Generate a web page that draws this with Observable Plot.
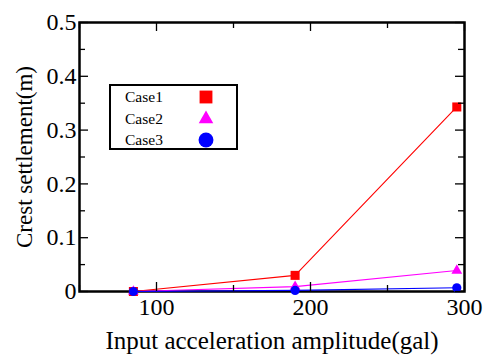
<!DOCTYPE html>
<html><head><meta charset="utf-8">
<script src="https://cdn.jsdelivr.net/npm/d3@7"></script>
<script src="https://cdn.jsdelivr.net/npm/@observablehq/plot@0.6"></script>
<style>
body{margin:0;background:#fff;}
#wrap{position:relative;width:486px;height:358px;font-family:"Liberation Serif",serif;}
#wrap svg, #wrap svg text{font-family:"Liberation Serif",serif !important;}
#legend{position:absolute;left:109px;top:84px;width:125px;height:62px;border:2px solid #000;background:#fff;font-size:15.5px;font-family:"Liberation Serif",serif;}
#legend .row{position:absolute;left:14px;height:22px;line-height:22px;}
#legend svg{position:absolute;left:84px;}
</style></head>
<body><div id="wrap"><div id="legend"></div></div>
<script>
const amplitude = [85, 190, 295];
const case1 = [0.0, 0.030, 0.343];
const case2 = [0.0, 0.009, 0.039];
const case3 = [0.0, 0.002, 0.007];
const seriesNames = ["Case1", "Case2", "Case3"];
const seriesColors = ["#ff0000", "#ff00ff", "#0000ff"];
const seriesSymbols = ["square", "triangle", "circle"];
const xMajor = [100, 200, 300];
const xMinor = [50, 150, 250];
const yMajor = [0, 0.1, 0.2, 0.3, 0.4, 0.5];
const yMinor = [0.05, 0.15, 0.25, 0.35, 0.45];

const allSeries = [case1, case2, case3];
const data = [];
seriesNames.forEach((n, i) => amplitude.forEach((a, j) => data.push({x: a, y: allSeries[i][j], s: n})));

const W = 486, H = 358, mt = 22, mb = 67, ml = 79, mr = 22;
const fh = H - mt - mb, fw = W - ml - mr;

const chart = Plot.plot({
  width: W, height: H,
  marginTop: mt, marginBottom: mb, marginLeft: ml, marginRight: mr,
  style: {background: "white", overflow: "visible"},
  x: {domain: [50, 300]},
  y: {domain: [0, 0.5]},
  color: {domain: seriesNames, range: seriesColors},
  symbol: {domain: seriesNames, range: seriesSymbols},
  marks: [
    Plot.frame({stroke: "black", strokeWidth: 2.5}),
    Plot.lineY(data, {x: "x", y: "y", stroke: "s", strokeWidth: 1.1}),
    Plot.dot(data.filter(d => d.s === "Case1"), {x: "x", y: "y", fill: "s", symbol: "s", r: 5.1}),
    Plot.dot(data.filter(d => d.s === "Case2"), {x: "x", y: "y", fill: "s", symbol: "s", r: 4}),
    Plot.dot(data.filter(d => d.s === "Case3"), {x: "x", y: "y", fill: "s", symbol: "s", r: 4.6}),
    Plot.tickX(xMajor, {x: d => d, insetTop: fh - 9, stroke: "black", strokeWidth: 1.3}),
    Plot.tickX(xMajor, {x: d => d, insetBottom: fh - 9, stroke: "black", strokeWidth: 1.3}),
    Plot.tickX(xMinor, {x: d => d, insetTop: fh - 6, stroke: "black", strokeWidth: 1.3}),
    Plot.tickX(xMinor, {x: d => d, insetBottom: fh - 6, stroke: "black", strokeWidth: 1.3}),
    Plot.tickY(yMajor, {y: d => d, insetRight: fw - 9, stroke: "black", strokeWidth: 1.3}),
    Plot.tickY(yMajor, {y: d => d, insetLeft: fw - 9, stroke: "black", strokeWidth: 1.3}),
    Plot.tickY(yMinor, {y: d => d, insetRight: fw - 6, stroke: "black", strokeWidth: 1.3}),
    Plot.tickY(yMinor, {y: d => d, insetLeft: fw - 6, stroke: "black", strokeWidth: 1.3}),
    Plot.axisX(xMajor, {tickSize: 0, tickPadding: 6, fontSize: 24, fill: "black", label: "Input acceleration amplitude(gal)", labelAnchor: "center", labelArrow: "none", labelOffset: 57, tickFormat: d => String(d)}),
    Plot.axisY(yMajor, {tickSize: 0, tickPadding: 3, fontSize: 24, fill: "black", label: "Crest settlement(m)", labelAnchor: "center", labelArrow: "none", labelOffset: 64, tickFormat: d => d === 0 ? "0" : d.toFixed(1)})
  ]
});
const wrap = document.getElementById("wrap");
wrap.insertBefore(chart, wrap.firstChild);
chart.querySelectorAll("[aria-label='x-axis label'] text").forEach(t => t.setAttribute("font-size", "25"));
chart.querySelectorAll("[aria-label='y-axis label'] text").forEach(t => t.setAttribute("font-size", "23"));

const legend = document.getElementById("legend");
const rowTops = [0, 22, 43];
seriesNames.forEach((n, i) => {
  const row = document.createElement("div");
  row.className = "row";
  row.style.top = rowTops[i] + "px";
  row.textContent = n;
  legend.appendChild(row);
  const s = d3.create("svg").attr("width", 22).attr("height", 22).style("top", rowTops[i] + "px");
  const sym = d3.symbol().type([d3.symbolSquare, d3.symbolTriangle, d3.symbolCircle][i]).size([165, 92, 175][i]);
  s.append("path").attr("d", sym()).attr("transform", "translate(11,11)").attr("fill", seriesColors[i]);
  legend.appendChild(s.node());
});
</script></body></html>
